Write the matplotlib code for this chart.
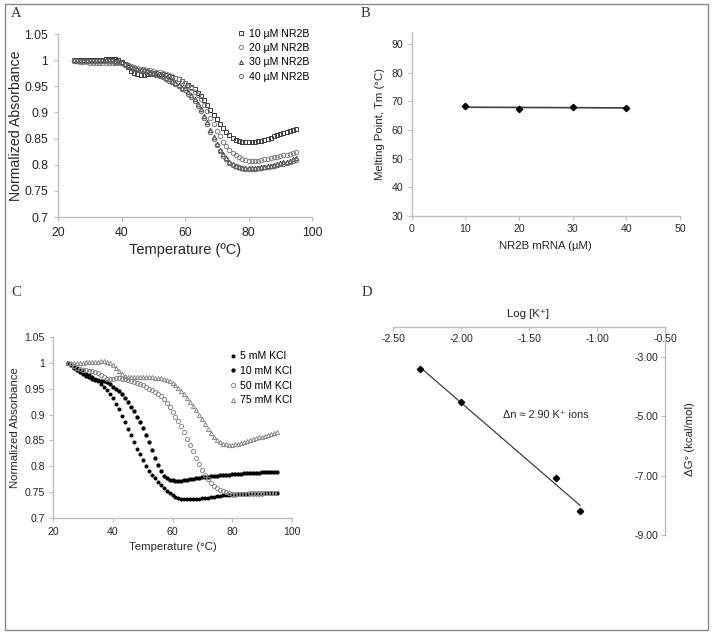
import numpy as np
import matplotlib
matplotlib.use("Agg")
import matplotlib.pyplot as plt
from matplotlib.patches import Rectangle

plt.rcParams['font.family'] = ['Liberation Sans', 'DejaVu Sans']

# ---------------------------------------------------------------- data
temps = np.arange(25, 96)   # 1 degree steps, 25..95 C

# panel A: melting curves at different NR2B concentrations
absA10 = [1.000, 1.000, 1.000, 1.000, 1.000, 1.000, 1.000, 1.001, 1.001, 1.001, 1.002,
          1.002, 1.003, 1.003, 1.001, 0.997, 0.992, 0.986, 0.980, 0.975, 0.973,
          0.972, 0.972, 0.973, 0.974, 0.975, 0.975, 0.974, 0.973, 0.971, 0.969,
          0.967, 0.965, 0.963, 0.960, 0.957, 0.953, 0.949, 0.944, 0.938, 0.931,
          0.923, 0.914, 0.905, 0.896, 0.887, 0.878, 0.870, 0.863, 0.857, 0.852,
          0.848, 0.846, 0.844, 0.843, 0.843, 0.843, 0.844, 0.845, 0.846, 0.848,
          0.850, 0.852, 0.854, 0.856, 0.858, 0.860, 0.862, 0.864, 0.866, 0.868]
absA20 = [1.000, 0.998, 0.997, 0.996, 0.996, 0.995, 0.995, 0.995, 0.995, 0.995, 0.995,
          0.995, 0.995, 0.995, 0.995, 0.994, 0.992, 0.990, 0.988, 0.986, 0.985,
          0.984, 0.983, 0.982, 0.981, 0.980, 0.978, 0.977, 0.975, 0.973, 0.971,
          0.969, 0.966, 0.963, 0.960, 0.956, 0.951, 0.946, 0.940, 0.933, 0.925,
          0.915, 0.903, 0.890, 0.877, 0.865, 0.854, 0.844, 0.836, 0.829, 0.823,
          0.818, 0.814, 0.811, 0.809, 0.808, 0.808, 0.808, 0.808, 0.809, 0.810,
          0.811, 0.812, 0.814, 0.815, 0.816, 0.818, 0.819, 0.821, 0.822, 0.824]
absA30 = [1.000, 1.000, 1.000, 1.000, 1.000, 1.000, 1.000, 1.000, 1.000, 1.000, 1.000,
          1.000, 1.000, 0.999, 0.998, 0.996, 0.993, 0.990, 0.987, 0.985, 0.983,
          0.982, 0.981, 0.980, 0.978, 0.976, 0.974, 0.972, 0.969, 0.966, 0.963,
          0.960, 0.956, 0.952, 0.947, 0.946, 0.940, 0.933, 0.925, 0.916, 0.906,
          0.894, 0.881, 0.867, 0.853, 0.840, 0.829, 0.820, 0.812, 0.806, 0.802,
          0.798, 0.796, 0.794, 0.793, 0.793, 0.793, 0.793, 0.794, 0.795, 0.796,
          0.797, 0.798, 0.800, 0.801, 0.803, 0.805, 0.806, 0.808, 0.810, 0.812]
absA40 = [0.999, 0.999, 0.999, 0.999, 0.999, 0.999, 0.999, 0.999, 0.999, 0.999, 0.999,
          0.999, 0.998, 0.997, 0.996, 0.994, 0.991, 0.988, 0.985, 0.983, 0.981,
          0.980, 0.979, 0.978, 0.976, 0.974, 0.972, 0.970, 0.967, 0.964, 0.961,
          0.958, 0.954, 0.950, 0.945, 0.942, 0.936, 0.929, 0.921, 0.912, 0.902,
          0.890, 0.877, 0.863, 0.849, 0.837, 0.826, 0.817, 0.810, 0.804, 0.800,
          0.797, 0.795, 0.793, 0.792, 0.792, 0.792, 0.792, 0.793, 0.794, 0.795,
          0.796, 0.797, 0.798, 0.799, 0.801, 0.802, 0.804, 0.806, 0.807, 0.809]
labelsA = ["10 µM NR2B", "20 µM NR2B", "30 µM NR2B", "40 µM NR2B"]

# panel B: melting point vs concentration
concB = [10, 20, 30, 40]
tmB = [68.3, 67.3, 68.0, 67.8]

# panel C: melting curves at different KCl concentrations
absC5 = [1.000, 0.996, 0.992, 0.989, 0.986, 0.983, 0.979, 0.976, 0.972, 0.968, 0.964,
         0.959, 0.954, 0.948, 0.940, 0.931, 0.921, 0.910, 0.898, 0.886, 0.873,
         0.860, 0.847, 0.834, 0.823, 0.812, 0.801, 0.792, 0.784, 0.777, 0.770,
         0.764, 0.758, 0.753, 0.749, 0.745, 0.742, 0.740, 0.738, 0.737, 0.737,
         0.737, 0.737, 0.738, 0.738, 0.739, 0.739, 0.740, 0.741, 0.742, 0.743,
         0.743, 0.744, 0.744, 0.745, 0.745, 0.745, 0.746, 0.746, 0.746, 0.746,
         0.747, 0.747, 0.747, 0.747, 0.747, 0.748, 0.748, 0.748, 0.748, 0.748]
absC10 = [1.000, 0.995, 0.990, 0.986, 0.982, 0.978, 0.975, 0.972, 0.969, 0.967, 0.966,
          0.965, 0.964, 0.962, 0.958, 0.954, 0.950, 0.945, 0.940, 0.932, 0.924,
          0.915, 0.906, 0.896, 0.886, 0.874, 0.861, 0.847, 0.832, 0.817, 0.803,
          0.791, 0.782, 0.777, 0.774, 0.773, 0.772, 0.772, 0.772, 0.773, 0.774,
          0.775, 0.776, 0.777, 0.778, 0.779, 0.780, 0.780, 0.781, 0.782, 0.782,
          0.783, 0.783, 0.784, 0.784, 0.785, 0.785, 0.786, 0.786, 0.787, 0.787,
          0.787, 0.788, 0.788, 0.788, 0.789, 0.789, 0.789, 0.790, 0.790, 0.790]
absC50 = [1.000, 0.996, 0.993, 0.990, 0.988, 0.986, 0.985, 0.984, 0.983, 0.982, 0.980,
          0.976, 0.972, 0.969, 0.968, 0.969, 0.970, 0.970, 0.969, 0.968, 0.966,
          0.964, 0.962, 0.960, 0.958, 0.956, 0.953, 0.950, 0.947, 0.944, 0.940,
          0.935, 0.929, 0.922, 0.914, 0.905, 0.896, 0.887, 0.877, 0.866, 0.853,
          0.841, 0.829, 0.817, 0.805, 0.794, 0.783, 0.775, 0.768, 0.763, 0.759,
          0.755, 0.752, 0.750, 0.748, 0.747, 0.747, 0.747, 0.747, 0.747, 0.747,
          0.748, 0.748, 0.748, 0.748, 0.748, 0.749, 0.749, 0.749, 0.749, 0.749]
absC75 = [1.000, 1.000, 1.000, 1.000, 1.000, 1.000, 1.001, 1.001, 1.001, 1.002, 1.002,
          1.003, 1.003, 1.002, 1.000, 0.996, 0.990, 0.984, 0.978, 0.974, 0.972,
          0.972, 0.972, 0.972, 0.972, 0.972, 0.972, 0.972, 0.972, 0.971, 0.971,
          0.970, 0.969, 0.967, 0.964, 0.960, 0.956, 0.951, 0.945, 0.939, 0.932,
          0.925, 0.917, 0.909, 0.900, 0.891, 0.882, 0.873, 0.864, 0.857, 0.851,
          0.847, 0.844, 0.843, 0.842, 0.842, 0.843, 0.844, 0.845, 0.847, 0.849,
          0.851, 0.852, 0.854, 0.856, 0.857, 0.859, 0.861, 0.862, 0.864, 0.866]
labelsC = ["5 mM KCl", "10 mM KCl", "50 mM KCl", "75 mM KCl"]

# panel D: free energy vs log[K+]
logK = [-2.30, -2.00, -1.30, -1.125]
dG = [-3.41, -4.52, -7.09, -8.20]
annotD = "Δn ≈ 2.90 K⁺ ions"

W, H = 714.0, 634.0
spineGray = "#bfbfbf"
textCol = "#262626"


def pxAxes(fig, x0, y0, x1, y1):
    """axes from pixel box (left, top, right, bottom), y from the top"""
    return fig.add_axes([x0 / W, 1 - y1 / H, (x1 - x0) / W, (y1 - y0) / H])


def styleAxes(ax, fs, tickLen=3, pad=3):
    for s in ["top", "right"]:
        ax.spines[s].set_visible(False)
    for s in ["left", "bottom"]:
        ax.spines[s].set_color(spineGray)
        ax.spines[s].set_linewidth(1.0)
    ax.tick_params(colors=spineGray, labelcolor=textCol, labelsize=fs,
                   length=tickLen, width=0.8, pad=pad)


def main():
    fig = plt.figure(figsize=(W / 100, H / 100), dpi=100)

    # ---------------- A
    axA = pxAxes(fig, 58, 34, 312, 217)
    styleAxes(axA, 8.8, pad=4)
    mk = dict(linestyle="none", markersize=3.2, markerfacecolor="none", markeredgewidth=0.7)
    axA.plot(temps, absA10, marker="s", color="#3a3a3a", label=labelsA[0], **mk)
    axA.plot(temps, absA20, marker="o", color="#808080", label=labelsA[1], **mk)
    axA.plot(temps, absA30, marker="^", color="#3a3a3a", label=labelsA[2], **mk)
    axA.plot(temps, absA40, marker="o", color="#6a6a6a", label=labelsA[3], **mk)
    axA.set_xlim(20, 100)
    axA.set_ylim(0.7, 1.05)
    axA.set_xticks([20, 40, 60, 80, 100])
    axA.set_yticks([0.7, 0.75, 0.8, 0.85, 0.9, 0.95, 1.0, 1.05])
    axA.set_yticklabels(["0.7", "0.75", "0.8", "0.85", "0.9", "0.95", "1", "1.05"])
    axA.set_xlabel("Temperature (ºC)", fontsize=10.5, color=textCol, labelpad=3)
    axA.set_ylabel("Normalized Absorbance", fontsize=10.2, color=textCol, labelpad=1)
    axA.legend(loc="upper left", bbox_to_anchor=(0.705, 1.03), frameon=False,
               fontsize=7.6, handlelength=0.8, handletextpad=0.35,
               labelspacing=0.42, borderpad=0, borderaxespad=0, markerscale=0.9)

    # ---------------- B
    axB = pxAxes(fig, 411.7, 31.7, 680, 215.7)
    styleAxes(axB, 7.6, pad=3)
    fitB = np.polyfit(concB, tmB, 1)
    xB = np.array([concB[0], concB[-1]])
    axB.plot(xB, np.polyval(fitB, xB), color="#404040", linewidth=1.2)
    axB.plot(concB, tmB, linestyle="none", marker="D", markersize=3.2, color="black")
    axB.set_xlim(0, 50)
    axB.set_ylim(30, 94.4)
    axB.set_xticks([0, 10, 20, 30, 40, 50])
    axB.set_yticks([30, 40, 50, 60, 70, 80, 90])
    axB.set_xlabel("NR2B mRNA (µM)", fontsize=8.2, color=textCol, labelpad=5)
    axB.set_ylabel("Melting Point, Tm (°C)", fontsize=8.2, color=textCol, labelpad=5)

    # ---------------- C
    axC = pxAxes(fig, 53.3, 336.7, 291.7, 518.3)
    styleAxes(axC, 7.6, pad=3)
    axC.plot(temps, absC5, linestyle="none", marker="o", markersize=1.9,
             color="black", label=labelsC[0])
    axC.plot(temps, absC10, linestyle="none", marker="o", markersize=2.1,
             color="black", label=labelsC[1])
    mkC = dict(linestyle="none", markersize=3.0, markerfacecolor="none",
               markeredgewidth=0.7, color="#8a8a8a")
    axC.plot(temps, absC50, marker="o", label=labelsC[2], **mkC)
    axC.plot(temps, absC75, marker="^", label=labelsC[3], **mkC)
    axC.set_xlim(20, 100)
    axC.set_ylim(0.7, 1.05)
    axC.set_xticks([20, 40, 60, 80, 100])
    axC.set_yticks([0.7, 0.75, 0.8, 0.85, 0.9, 0.95, 1.0, 1.05])
    axC.set_yticklabels(["0.7", "0.75", "0.8", "0.85", "0.9", "0.95", "1", "1.05"])
    axC.set_xlabel("Temperature (°C)", fontsize=8.2, color=textCol, labelpad=4)
    axC.set_ylabel("Normalized Absorbance", fontsize=8.2, color=textCol, labelpad=3)
    axC.legend(loc="upper left", bbox_to_anchor=(0.735, 0.92), frameon=False,
               fontsize=7.6, handlelength=0.8, handletextpad=0.3,
               labelspacing=0.45, borderpad=0, borderaxespad=0)

    # ---------------- D (axes drawn at the top and right, Excel style)
    axD = pxAxes(fig, 393.3, 327.3, 665, 535)
    styleAxes(axD, 7.6, pad=2)
    axD.spines["bottom"].set_position(("axes", 1.0))
    axD.spines["left"].set_position(("axes", 1.0))
    fitD = np.polyfit(logK, dG, 1)
    xD = np.array([logK[0], logK[-1]])
    axD.plot(xD, np.polyval(fitD, xD), color="#404040", linewidth=0.9)
    axD.plot(logK, dG, linestyle="none", marker="D", markersize=3.2, color="black")
    axD.set_xlim(-2.5, -0.5)
    axD.set_ylim(-9, -2)
    axD.set_xticks([-2.5, -2.0, -1.5, -1.0, -0.5])
    axD.set_xticklabels(["-2.50", "-2.00", "-1.50", "-1.00", "-0.50"])
    axD.set_yticks([-9, -7, -5, -3])
    axD.set_yticklabels(["-9.00", "-7.00", "-5.00", "-3.00"])
    axD.text(0.496, 1.065, "Log [K⁺]", transform=axD.transAxes, fontsize=8.2,
             color=textCol, ha="center", va="center")
    axD.text(1.092, 0.46, "ΔG° (kcal/mol)", transform=axD.transAxes, fontsize=8.2,
             color=textCol, ha="center", va="center", rotation=90)
    axD.text(-1.38, -4.95, annotD, fontsize=7.8, color=textCol, ha="center", va="center")

    # panel letters and outer frame
    for lab, x, y in [("A", 11, 13.5), ("B", 361, 13.5), ("C", 11, 292), ("D", 362, 292)]:
        fig.text(x / W, 1 - y / H, lab, family="Liberation Serif", fontsize=10.5,
                 color="#333333", ha="left", va="center")
    fig.add_artist(Rectangle((5 / W, 4 / H), 703 / W, 626 / H, transform=fig.transFigure,
                             fill=False, edgecolor="#8a8a8a", linewidth=1.0))

    fig.savefig("out.png", dpi=100)


if (__name__ == "__main__"):
    main()
